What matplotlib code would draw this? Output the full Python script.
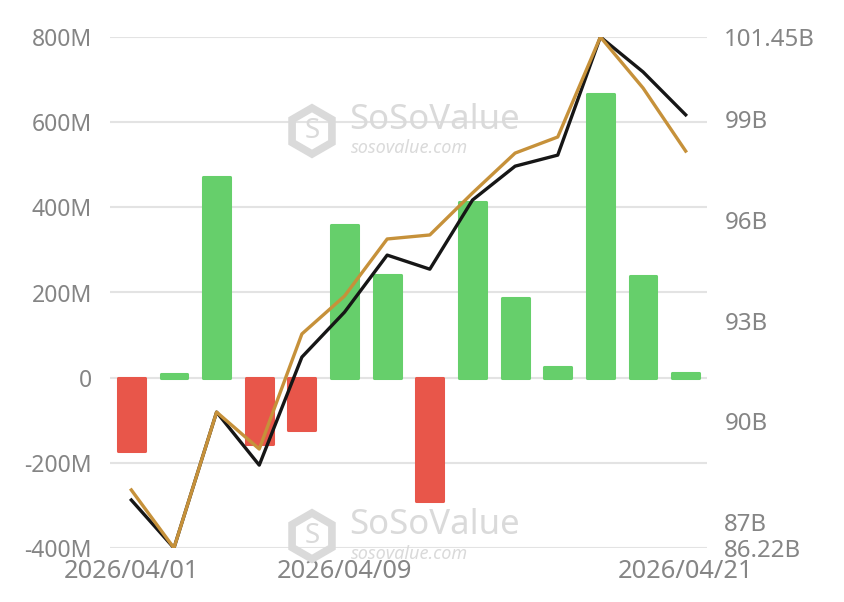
import numpy as np
import matplotlib.pyplot as plt
from matplotlib.patches import RegularPolygon
from matplotlib.transforms import IdentityTransform

plt.rcParams['font.family'] = ['Noto Sans', 'DejaVu Sans']

# data
dates = ["2026/04/01", "2026/04/02", "2026/04/06", "2026/04/07", "2026/04/08",
         "2026/04/09", "2026/04/10", "2026/04/13", "2026/04/14", "2026/04/15",
         "2026/04/16", "2026/04/17", "2026/04/20", "2026/04/21"]
net_inflow = [-173, 8, 472, -156, -123, 359, 242, -290, 413, 188, 26, 667, 239, 12]  # M
net_assets = [87.65, 86.22, 90.27, 88.69, 91.91, 93.25, 94.95, 94.53, 96.59,
              97.60, 97.93, 101.45, 100.41, 99.13]  # B, black line
price_line = [87.95, 86.22, 90.27, 89.17, 92.60, 93.73, 95.43, 95.55, 96.80,
              97.99, 98.47, 101.45, 99.93, 98.05]  # gold line, same scale
shown_dates = ["2026/04/01", "2026/04/09", "2026/04/21"]

left_ticks = [-400, -200, 0, 200, 400, 600, 800]
right_ticks = [86.22, 87, 90, 93, 96, 99, 101.45]

green = "#66CF6B"
red = "#E8564A"
gold = "#C6913A"
black = "#161616"
txt = "#858585"
wm = "#dadada"

fig = plt.figure(figsize=(8.44, 6.02), dpi=100)
ax = fig.add_axes([110 / 844, 54 / 602, 597 / 844, 511 / 602])

x = np.arange(len(dates))
cols = [green if v >= 0 else red for v in net_inflow]
ax.bar(x, net_inflow, width=0.63, color=cols, edgecolor=cols, linewidth=2.2,
       joinstyle="round", zorder=2)

ax.set_xlim(-0.5, len(dates) - 0.5)
ax.set_ylim(-400, 800)
ax.set_yticks(left_ticks)
ax.set_yticklabels(["0" if v == 0 else f"{v}M" for v in left_ticks])
ax.set_xticks([dates.index(d) for d in shown_dates])
ax.set_xticklabels(shown_dates)
ax.grid(axis="y", color="#e3e3e3", linewidth=1.5)
ax.set_axisbelow(True)
for s in ax.spines.values():
    s.set_visible(False)
ax.tick_params(axis="y", length=0, colors=txt, labelsize=16.5, pad=13)
ax.tick_params(axis="x", length=0, colors=txt, labelsize=18.3, pad=8)

ax2 = ax.twinx()
ax2.plot(x, net_assets, color=black, linewidth=2.4, zorder=3)
ax2.plot(x, price_line, color=gold, linewidth=2.4, zorder=4)
ax2.set_ylim(86.22, 101.45)
ax2.set_yticks(right_ticks)
ax2.set_yticklabels([f"{v:g}B" for v in right_ticks])
for s in ax2.spines.values():
    s.set_visible(False)
ax2.tick_params(axis="y", length=0, colors=txt, labelsize=17.3, pad=12.5)

# watermarks
for cy, ty, sy in ((131, 120, 148), (536, 525, 554)):
    ax.text(349 / 844, 1 - ty / 602, "SoSoValue", transform=fig.transFigure,
            fontsize=25, fontweight="bold", color=wm, va="center",
            ha="left", zorder=0.6, clip_on=False)
    ax.text(351 / 844, 1 - sy / 602, "sosovalue.com", transform=fig.transFigure,
            fontsize=13, style="italic", color=wm, va="center",
            ha="left", zorder=0.6, clip_on=False)
    hexa = RegularPolygon((312, 602 - cy), numVertices=6, radius=23,
                          transform=IdentityTransform(), facecolor="none",
                          edgecolor=wm, linewidth=5.5, zorder=0.6)
    fig.patches.append(hexa)
    ax.text(312 / 844, 1 - cy / 602, "S", transform=fig.transFigure, fontsize=20,
            fontweight="bold", color=wm, ha="center", va="center",
            zorder=0.6, clip_on=False)

fig.savefig("out.png", dpi=100)
